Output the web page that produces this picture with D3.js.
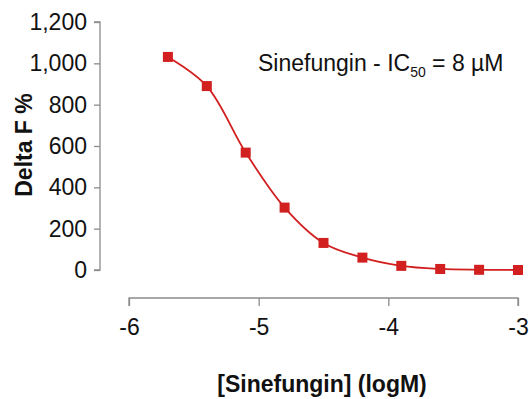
<!DOCTYPE html>
<html>
<head>
<meta charset="utf-8">
<script src="https://cdn.jsdelivr.net/npm/d3@7"></script>
<style>
body{margin:0;background:#fff;}
text{font-family:"Liberation Sans",Arial,sans-serif;}
</style>
</head>
<body>
<script>
// concentrations (log M) and response
var logConc = [-5.7, -5.4, -5.1, -4.8, -4.5, -4.2, -3.9, -3.6, -3.3, -3.0];
var deltaF = [1031, 890, 568, 302, 131, 60, 20, 5, 1, 0];
var yTicks = [0, 200, 400, 600, 800, 1000, 1200];
var xTicks = [-6, -5, -4, -3];

const svg_width = 529, svg_height = 399;
const red = "#d21f1f", axisColor = "#8c8c8c";

var svg = d3.select("body").append("svg")
	.attr("width", svg_width)
	.attr("height", svg_height);

var x = d3.scaleLinear().domain([-6, -3]).range([129, 518]);
var y = d3.scaleLinear().domain([0, 1200]).range([270, 22]);

// y axis
var yAxis = svg.append("g")
	.attr("transform", "translate(100,0)")
	.call(d3.axisLeft(y).tickValues(yTicks).tickSize(6).tickPadding(7).tickFormat(d3.format(",")));
yAxis.selectAll("path,line").attr("stroke", axisColor).attr("stroke-width", 1.3);
yAxis.select(".domain").attr("d", "M-6," + y(1200) + "H0V" + y(0) + "H-6");
yAxis.selectAll("text").attr("font-size", "23px").attr("fill", "#111").attr("font-family", "Liberation Sans, Arial, sans-serif");

// x axis
var xAxis = svg.append("g")
	.attr("transform", "translate(0,298)")
	.call(d3.axisBottom(x).tickValues(xTicks).tickSize(8).tickPadding(13).tickFormat(function(d){ return String(d); }));
xAxis.selectAll("path,line").attr("stroke", axisColor).attr("stroke-width", 1.3);
xAxis.select(".domain").attr("d", "M" + x(-6) + ",8V0H" + x(-3) + "V8");
xAxis.selectAll("text").attr("font-size", "23px").attr("fill", "#111").attr("font-family", "Liberation Sans, Arial, sans-serif");

// fitted line through points
var pts = logConc.map(function(d, i){ return [d, deltaF[i]]; });
var line = d3.line()
	.x(function(d){ return x(d[0]); })
	.y(function(d){ return Math.min(y(d[1]), y(0)); })
	.curve(d3.curveCatmullRom.alpha(0.5));
svg.append("path")
	.attr("d", line(pts))
	.attr("fill", "none")
	.attr("stroke", red)
	.attr("stroke-width", 1.8);

// markers
svg.append("g").selectAll("rect")
	.data(pts)
	.enter()
	.append("rect")
	.attr("x", function(d){ return x(d[0]) - 5; })
	.attr("y", function(d){ return y(d[1]) - 5; })
	.attr("width", 10)
	.attr("height", 10)
	.attr("fill", red);

// axis titles
svg.append("text")
	.attr("x", 322)
	.attr("y", 392)
	.attr("text-anchor", "middle")
	.attr("font-size", "23px")
	.attr("font-weight", "bold")
	.attr("fill", "#111")
	.text("[Sinefungin] (logM)");

svg.append("text")
	.attr("transform", "translate(32,145) rotate(-90)")
	.attr("text-anchor", "middle")
	.attr("font-size", "23px")
	.attr("font-weight", "bold")
	.attr("fill", "#111")
	.text("Delta F %");

// annotation
var note = svg.append("text")
	.attr("x", 258)
	.attr("y", 71)
	.attr("font-size", "23px")
	.attr("fill", "#111");
note.append("tspan").text("Sinefungin - IC");
note.append("tspan").attr("font-size", "14px").attr("dy", 6).text("50");
note.append("tspan").attr("dy", -6).text(" = 8 \u00b5M");
</script>
</body>
</html>
